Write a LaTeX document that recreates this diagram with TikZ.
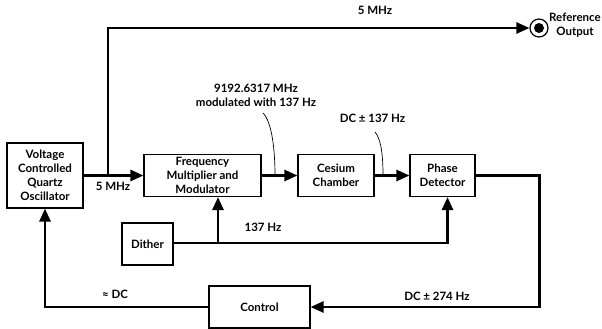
\documentclass[tikz,border=0pt]{standalone}
\usepackage{fontspec}
\setmainfont{Lato}
\usetikzlibrary{arrows.meta}
\tikzset{
  blk/.style={draw,line width=1.1pt,align=center,inner sep=0pt,
    font=\bfseries\fontsize{11.5}{14}\selectfont},
  lbl/.style={align=center,inner sep=0pt,font=\bfseries\fontsize{11.5}{14}\selectfont},
  sig/.style={line width=2.6pt},
  arr/.style={sig,-{Triangle[length=13pt,width=11pt]}},
  note/.style={line width=0.7pt},
}
\begin{document}
\begin{tikzpicture}[x=1pt,y=-1pt]
\useasboundingbox (0,0) rectangle (602,329);
%\draw[step=10,gray,very thin] (0,0) grid (602,329);
% blocks
\node[blk,minimum width=76,minimum height=65] (vcxo) at (45,175.5) {Voltage\\Controlled\\Quartz\\Oscillator};
\node[blk,minimum width=117,minimum height=42] (mult) at (202.5,175.5) {Frequency\\Multiplier and\\Modulator};
\node[blk,minimum width=76,minimum height=42] (cs) at (336,175.5) {Cesium\\Chamber};
\node[blk,minimum width=65,minimum height=42] (pd) at (442.5,175.5) {Phase\\Detector};
\node[blk,minimum width=51,minimum height=42] (dither) at (147.5,244) {Dither};
\node[blk,minimum width=101,minimum height=42] (ctrl) at (259.5,307) {Control};
% reference output
\node[draw,circle,line width=1.2pt,minimum size=18,inner sep=0pt] (ref) at (539,28) {};
\fill (ref.center) circle (5);
\node[lbl,anchor=west] (reftxt) at (549,25) {Reference\\Output};
% joints
\coordinate (split) at (108,175.5);
\coordinate (tap) at (218,243);
% signals
\draw[arr] (vcxo.east) -- (mult.west);
\draw[arr] (split) |- (ref.west);
\draw[arr] (mult.east) -- (cs.west);
\draw[arr] (cs.east) -- (pd.west);
\draw[arr] (dither.east |- tap) -| ([xshift=5]pd.south);
\draw[arr] (tap) -- (tap |- mult.south);
\draw[arr] (pd.east) -- ++(64,0) |- (ctrl.east);
\draw[arr] (ctrl.west) -| (vcxo.south);
% labels
\node[lbl] (ftop) at (375,10) {5 MHz};
\node[lbl] (fout) at (113,186) {5 MHz};
\node[lbl] (fmod) at (256,95) {9192.6317 MHz\\modulated with 137 Hz};
\node[lbl] (fdc) at (372.5,118) {DC ± 137 Hz};
\node[lbl] (fdith) at (263,227) {137 Hz};
\node[lbl] (fctl) at (115,294) {≈ DC};
\node[lbl] (ferr) at (437,296) {DC ± 274 Hz};
% pointers
\coordinate (p1) at (263,113);
\coordinate (p2) at (375,132);
\draw[note] (p1) .. controls (272,122) and (275,150) .. (275,175.5);
\draw[note] (p2) .. controls (382,140) and (383,160) .. (383,175.5);
\end{tikzpicture}
\end{document}
